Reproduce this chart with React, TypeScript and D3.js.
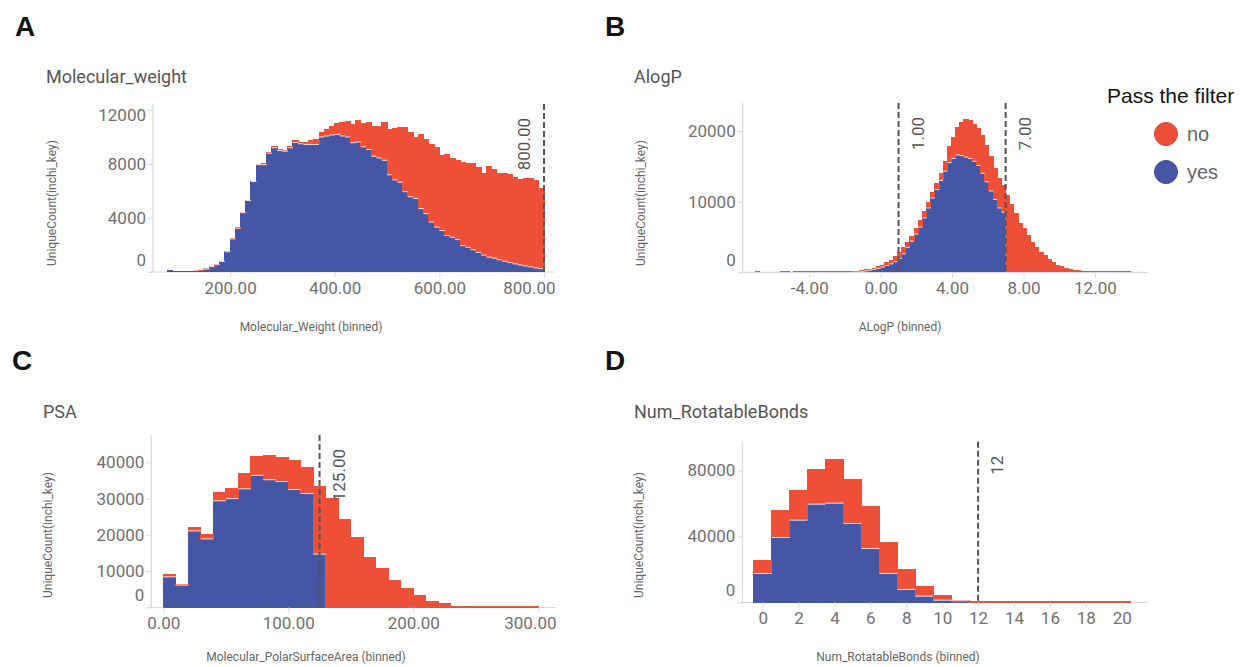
import React, { useEffect, useRef } from "react";
import * as d3 from "d3";

const RED = "#f04f37";
const BLUE = "#4556a5";
const AXIS = "#d8d8e2";
const TICK = "#707070";
const LABEL = "#555";
const FONT = "Roboto, 'Open Sans', sans-serif";
const SANS = "'Liberation Sans', Arial, sans-serif";

// A: Molecular weight, bins of 10 from 80
const mwBinStart = 80;
const mwBinWidth = 10;
const mwYes = [
  120, 30, 80, 80, 90, 130, 180, 230, 400, 540, 780, 1500,
  2450, 3250, 4400, 5300, 6700, 7950, 7950, 8800, 9200, 9000,
  8950, 9200, 9600, 9500, 9450, 9450, 9450, 10000, 10075, 10150,
  10200, 10075, 10000, 9575, 9625, 9275, 9075, 8575, 8450, 8275,
  7200, 6825, 6650, 5950, 5575, 5450, 4700, 4325, 3700, 3325,
  3075, 2700, 2575, 2400, 1950, 1825, 1650, 1450, 1250, 1100,
  1025, 900, 800, 700, 600, 520, 450, 380, 300, 250,
];
const mwNo = [
  0, 0, 0, 0, 0, 30, 40, 50, 60, 60, 70, 70,
  70, 50, 50, 50, 50, 75, 100, 100, 100, 75,
  75, 100, 150, 150, 150, 350, 400, 400, 500, 675,
  825, 1025, 1150, 1375, 1625, 1725, 2000, 2250, 2375, 2800,
  3375, 3875, 4100, 4800, 4825, 4550, 5550, 5550, 5750, 5950,
  5625, 6050, 5875, 5925, 6175, 6250, 6425, 6350, 6075, 6725,
  6625, 6400, 6500, 6550, 6400, 6380, 6500, 6570, 6500, 5950,
];
const mwXTicks = [200, 400, 600, 800];
const mwYTicks = [0, 4000, 8000, 12000];
const mwCutoffs = [800];

// B: AlogP, 90 bins between -7 and 14
const alogpBinStart = -7;
const alogpBinWidth = 21 / 90;
const alogpYes = [
  0, 0, 0, 0, 0, 0, 0, 0, 0, 0,
  0, 0, 0, 0, 0, 0, 0, 0, 0, 0,
  0, 0, 0, 10, 30, 120, 200, 300, 400, 550,
  750, 950, 1200, 1500, 1950, 2600, 3500, 4400, 5400, 6400,
  7700, 9100, 10500, 11700, 13000, 14300, 15500, 16100, 16600, 16500,
  16300, 16100, 15700, 15100, 14000, 12800, 11500, 10300, 9100, 8500,
  0, 0, 0, 0, 0, 0, 0, 0, 0, 0,
  0, 0, 0, 0, 0, 0, 0, 0, 0, 0,
  0, 0, 0, 0, 0, 0, 0, 0, 0, 0,
];
const alogpNo = [
  150, 0, 0, 0, 0, 0, 120, 120, 0, 100,
  100, 100, 100, 100, 100, 100, 110, 110, 120, 120,
  130, 140, 150, 160, 170, 180, 200, 200, 250, 300,
  350, 450, 600, 800, 950, 950, 800, 800, 900, 1000,
  1000, 900, 900, 1000, 1100, 1500, 2300, 3100, 3900, 4800,
  5400, 5500, 5300, 5300, 5400, 5200, 5000, 4500, 4200, 3800,
  11000, 9600, 8400, 7000, 6200, 5300, 4300, 3600, 2900, 2400,
  1900, 1450, 1100, 850, 650, 500, 380, 300, 220, 180,
  150, 130, 120, 110, 100, 100, 100, 100, 100, 100,
];
const alogpXTicks = [-4, 0, 4, 8, 12];
const alogpYTicks = [0, 10000, 20000];
const alogpCutoffs = [1, 7];

// C: polar surface area, bins of 10 from 0
const psaBinStart = 0;
const psaBinWidth = 10;
const psaYes = [
  8450, 6180, 21100, 18900, 29400, 30000, 32700, 36400, 35200, 34700,
  32500, 31400, 14700, 0, 0, 0, 0, 0, 0, 0,
  0, 0, 0, 0, 0, 0, 0, 0, 0, 0,
];
const psaNo = [
  650, 370, 1000, 1400, 2400, 3000, 4400, 5200, 6800, 6800,
  8000, 7400, 18900, 30300, 24400, 19400, 13900, 10900, 7500, 5300,
  3360, 1800, 1200, 550, 350, 300, 300, 280, 280, 280,
];
const psaXTicks = [0, 100, 200, 300];
const psaYTicks = [0, 10000, 20000, 30000, 40000];
const psaCutoffs = [125];

// D: rotatable bonds 0..20
const rbBinStart = -0.5;
const rbBinWidth = 1;
const rbYes = [17600, 39400, 49900, 59600, 60200, 47900, 32700, 17600, 7900, 3840, 1400, 1000, 0, 0, 0, 0, 0, 0, 0, 0, 0];
const rbNo = [8050, 16600, 18200, 21600, 26700, 26800, 25900, 19200, 12300, 6260, 3040, 800, 900, 800, 800, 750, 750, 700, 700, 700, 700];
const rbXTicks = [0, 2, 4, 6, 8, 10, 12, 14, 16, 18, 20];
const rbYTicks = [0, 40000, 80000];
const rbCutoffs = [12];

const legendKeys = ["no", "yes"];

const fixed2 = (v: number) => v.toFixed(2);
const whole = (v: number) => String(v);

const panels = [
  {
    letter: "A", lx: 15, ly: 36, title: "Molecular_weight", tx: 46, ty: 83,
    xTitle: "Molecular_Weight (binned)", xtx: 311, xty: 331, ytx: 56, yty: 203,
    left: 150, right: 555, top: 104, bottom: 272, yAxisX: 153,
    xDomain: [47, 821], yMax: 12444,
    binStart: mwBinStart, binWidth: mwBinWidth, yes: mwYes, no: mwNo,
    xTicks: mwXTicks, yTicks: mwYTicks, fmt: fixed2, cutoffs: mwCutoffs, cutFmt: fixed2, cutSide: -1,
  },
  {
    letter: "B", lx: 605, ly: 36, title: "AlogP", tx: 634, ty: 83,
    xTitle: "ALogP (binned)", xtx: 900, xty: 331, ytx: 645, yty: 203,
    left: 740, right: 1148, top: 103, bottom: 272.3, yAxisX: 742.7,
    xDomain: [-7.882, 14.975], yMax: 23946,
    binStart: alogpBinStart, binWidth: alogpBinWidth, yes: alogpYes, no: alogpNo,
    xTicks: alogpXTicks, yTicks: alogpYTicks, fmt: fixed2, cutoffs: alogpCutoffs, cutFmt: fixed2, cutSide: 1,
  },
  {
    letter: "C", lx: 12, ly: 370, title: "PSA", tx: 43, ty: 418,
    xTitle: "Molecular_PolarSurfaceArea (binned)", xtx: 306, xty: 661, ytx: 52, yty: 535,
    left: 148, right: 556, top: 435, bottom: 607.5, yAxisX: 151.3,
    xDomain: [-12.24, 314.16], yMax: 47521,
    binStart: psaBinStart, binWidth: psaBinWidth, yes: psaYes, no: psaNo,
    xTicks: psaXTicks, yTicks: psaYTicks, fmt: fixed2, cutoffs: psaCutoffs, cutFmt: fixed2, cutSide: 1,
  },
  {
    letter: "D", lx: 605, ly: 370, title: "Num_RotatableBonds", tx: 634, ty: 418,
    xTitle: "Num_RotatableBonds (binned)", xtx: 898, xty: 661, ytx: 643, yty: 535,
    left: 740, right: 1148, top: 441.7, bottom: 602.5, yAxisX: 742.3,
    xDomain: [-1.2646, 21.465], yMax: 97455,
    binStart: rbBinStart, binWidth: rbBinWidth, yes: rbYes, no: rbNo,
    xTicks: rbXTicks, yTicks: rbYTicks, fmt: whole, cutoffs: rbCutoffs, cutFmt: whole, cutSide: 1,
  },
];

function drawPanel(svg: any, p: any) {
  const g = svg.append("g");
  const x = d3.scaleLinear().domain(p.xDomain).range([p.left, p.right]);
  const y = d3.scaleLinear().domain([0, p.yMax]).range([p.bottom, p.top]);

  g.append("text").attr("x", p.lx).attr("y", p.ly).attr("font-family", SANS)
    .attr("font-weight", "bold").attr("font-size", 28).attr("fill", "#111").text(p.letter);
  g.append("text").attr("x", p.tx).attr("y", p.ty).attr("font-family", FONT)
    .attr("font-size", 18).attr("fill", LABEL).text(p.title);

  // axis lines (under the bars so thin tails stay visible)
  g.append("line").attr("x1", p.yAxisX).attr("x2", p.yAxisX).attr("y1", p.top).attr("y2", p.bottom)
    .attr("stroke", AXIS).attr("stroke-width", 1.2);
  g.append("line").attr("x1", p.left).attr("x2", p.right).attr("y1", p.bottom).attr("y2", p.bottom)
    .attr("stroke", AXIS).attr("stroke-width", 1.2);

  const rows = p.yes.map((v: number, i: number) => ({
    start: p.binStart + i * p.binWidth, yes: v, no: p.no[i],
  }));
  const stacked = d3.stack().keys(["yes", "no"])(rows as any);
  const colors: any = { yes: BLUE, no: RED };
  const x0 = (d: any) => Math.floor(x(d.data.start));
  const x1 = (d: any) => Math.ceil(x(d.data.start + p.binWidth));
  stacked.forEach((layer: any) => {
    g.append("g").attr("fill", colors[layer.key]).attr("shape-rendering", "crispEdges")
      .selectAll("rect")
      .data(layer.filter((d: any) => d[1] > d[0]))
      .join("rect")
      .attr("x", x0)
      .attr("width", (d: any) => x1(d) - x0(d))
      .attr("y", (d: any) => Math.min(y(d[1]), p.bottom - 1.5))
      .attr("height", (d: any) => Math.max(1.5, y(d[0]) - y(d[1])));
  });
  g.append("g").attr("stroke", "#f4e2e0").attr("stroke-width", 1)
    .selectAll("line")
    .data(rows.filter((r: any) => r.yes > 0 && r.no > 0))
    .join("line")
    .attr("x1", (d: any) => x(d.start))
    .attr("x2", (d: any) => x(d.start + p.binWidth))
    .attr("y1", (d: any) => y(d.yes))
    .attr("y2", (d: any) => y(d.yes));

  const gx = g.append("g").attr("transform", `translate(0,${p.bottom})`)
    .call(d3.axisBottom(x).tickValues(p.xTicks).tickFormat(p.fmt).tickSize(5).tickSizeOuter(0));
  gx.select(".domain").remove();
  gx.selectAll(".tick line").attr("stroke", AXIS);
  gx.selectAll(".tick text").attr("font-family", FONT).attr("font-size", 17).attr("fill", TICK).attr("y", 9.5);
  gx.selectAll(".tick").each(function (this: any, d: any) {
    const t = d3.select(this).select("text");
    const w = (t.node() as any).getComputedTextLength();
    if (x(d) + w / 2 > p.right) t.attr("text-anchor", "end").attr("x", p.right - x(d));
  });

  const gy = g.append("g").attr("transform", `translate(${p.yAxisX},0)`)
    .call(d3.axisLeft(y).tickValues(p.yTicks).tickFormat(whole as any).tickSize(5).tickPadding(2).tickSizeOuter(0));
  gy.select(".domain").remove();
  gy.selectAll(".tick line").attr("stroke", AXIS);
  gy.selectAll(".tick text").attr("font-family", FONT).attr("font-size", 17).attr("fill", TICK)
    .attr("y", (d: any) => Math.max(p.top + 11, Math.min(p.bottom - 12, y(d))) - y(d));

  // cutoffs
  p.cutoffs.forEach((c: number) => {
    g.append("line").attr("x1", x(c)).attr("x2", x(c)).attr("y1", p.top).attr("y2", p.bottom)
      .attr("stroke", "#555").attr("stroke-width", 2).attr("stroke-dasharray", "6,3");
    const bx = p.cutSide < 0 ? x(c) - 14 : x(c) + 25;
    g.append("text").attr("transform", `translate(${bx},${p.top + 14}) rotate(-90)`)
      .attr("text-anchor", "end").attr("font-family", FONT).attr("font-size", 17)
      .attr("fill", LABEL).text(p.cutFmt(c));
  });

  g.append("text").attr("transform", `translate(${p.ytx},${p.yty}) rotate(-90)`)
    .attr("text-anchor", "middle").attr("font-family", FONT).attr("font-size", 12)
    .attr("fill", "#666").text("UniqueCount(inchi_key)");
  g.append("text").attr("x", p.xtx).attr("y", p.xty).attr("text-anchor", "middle")
    .attr("font-family", FONT).attr("font-size", 12).attr("fill", "#666").text(p.xTitle);
}

function drawLegend(svg: any) {
  const g = svg.append("g");
  g.append("text").attr("x", 1107).attr("y", 103).attr("font-family", SANS).attr("font-size", 21)
    .attr("fill", "#111").text("Pass the filter");
  const colors: any = { no: RED, yes: BLUE };
  const strokes: any = { no: "#d8432f", yes: "#3a4a92" };
  legendKeys.forEach((k, i) => {
    g.append("circle").attr("cx", 1166).attr("cy", 134 + i * 38).attr("r", 11.5)
      .attr("fill", colors[k]).attr("stroke", strokes[k]).attr("stroke-width", 1);
    g.append("text").attr("x", 1187).attr("y", 141 + i * 38).attr("font-family", SANS)
      .attr("font-size", 20).attr("fill", "#666").text(k);
  });
}

export default function App() {
  const ref = useRef<SVGSVGElement>(null);
  useEffect(() => {
    const svg = d3.select(ref.current);
    svg.selectAll("*").remove();
    panels.forEach((p) => drawPanel(svg, p));
    drawLegend(svg);
  }, []);
  return (
    <svg
      ref={ref}
      width={1248}
      height={667}
      style={{ position: "absolute", left: 0, top: 0, background: "#fff" }}
    />
  );
}
